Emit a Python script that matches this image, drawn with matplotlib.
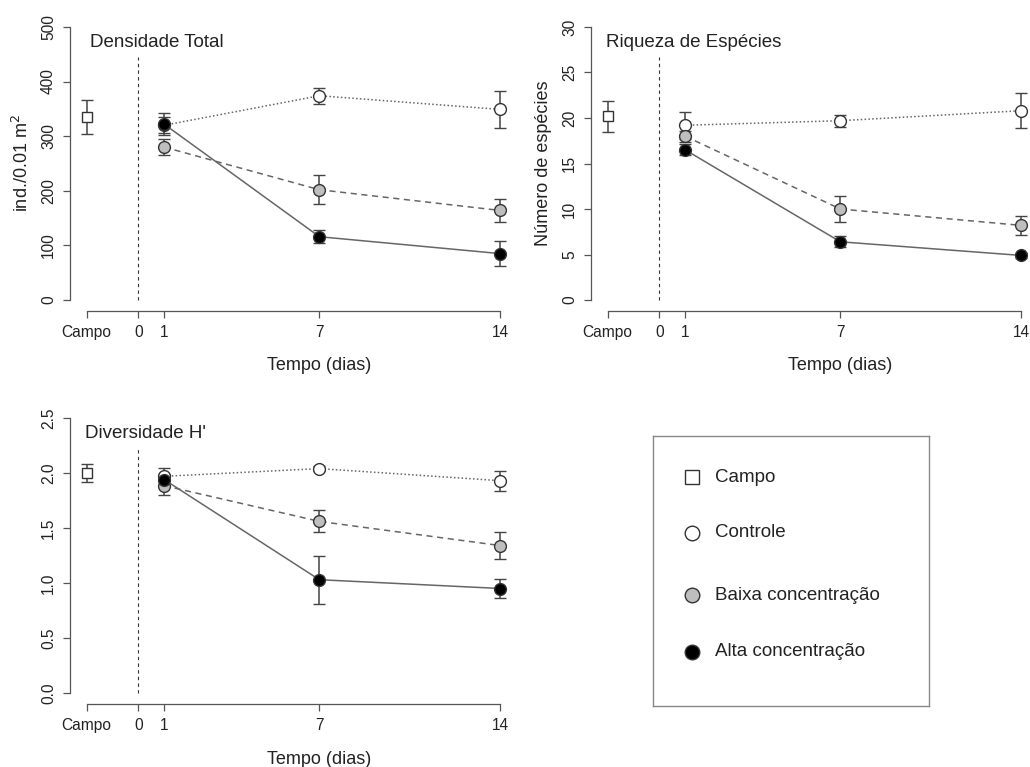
"""Densidade, riqueza e diversidade ao longo do tempo (campo x tratamentos)."""

import matplotlib

matplotlib.use("Agg")
import matplotlib.pyplot as plt
from matplotlib.transforms import blended_transform_factory

plt.rcParams["font.family"] = ["Liberation Sans", "DejaVu Sans"]

DAYS = [1, 7, 14]
CAMPO_X = -2
XTICKS = [-2, 0, 1, 7, 14]
XTICKLABELS = ["Campo", "0", "1", "7", "14"]

# Densidade total (ind./0.01 m2)
dens_campo, dens_campo_err = 335, 31
dens_controle = [320, 374, 349]
dens_controle_err = [15, 15, 34]
dens_baixa = [280, 202, 164]
dens_baixa_err = [15, 27, 21]
dens_alta = [322, 116, 85]
dens_alta_err = [20, 12, 23]

# Riqueza de especies
riq_campo, riq_campo_err = 20.2, 1.7
riq_controle = [19.2, 19.7, 20.8]
riq_controle_err = [1.5, 0.65, 1.9]
riq_baixa = [18.0, 10.0, 8.2]
riq_baixa_err = [0.6, 1.4, 1.05]
riq_alta = [16.5, 6.4, 4.9]
riq_alta_err = [0.6, 0.6, 0.3]

# Diversidade H'
div_campo, div_campo_err = 2.0, 0.085
div_controle = [1.97, 2.04, 1.93]
div_controle_err = [0.08, 0.02, 0.09]
div_baixa = [1.885, 1.56, 1.34]
div_baixa_err = [0.085, 0.1, 0.125]
div_alta = [1.94, 1.03, 0.95]
div_alta_err = [0.05, 0.22, 0.087]

LEGEND_LABELS = ["Campo", "Controle", "Baixa concentração", "Alta concentração"]
LEGEND_MARKERS = ["s", "o", "o", "o"]
LEGEND_FILLS = ["white", "white", "#bebebe", "black"]

AXIS_COL = "#555555"
TEXT_COL = "#222222"
LINE_COL = "#666666"
ERR_COL = "#444444"
EDGE_COL = "#333333"

# controle (dotted), baixa (dashed), alta (solid)
STYLES = [("white", (0, (1, 1.5))), ("#bebebe", (0, (4, 3))), ("black", "-")]


def draw_panel(ax, campo, campo_err, series, ymax, yticks, title, title_x=-2.05):
    ax.set_xlim(-2.64, 14.64)
    ax.set_ylim(-0.04 * ymax, 1.04 * ymax)

    # reference line at day 0
    ax.plot([0, 0], [0, 0.89 * ymax], color="#333333", lw=0.8, dashes=(3, 3))

    ax.errorbar([CAMPO_X], [campo], yerr=[campo_err], fmt="s", ms=7.5,
                mfc="white", mec=EDGE_COL, mew=1, ecolor=ERR_COL,
                elinewidth=1.1, capsize=4.5, capthick=1.1)

    for (vals, errs), (fill, ls) in zip(series, STYLES):
        ax.errorbar(DAYS, vals, yerr=errs, marker="o", ms=8.5, color=LINE_COL,
                    ls=ls, lw=1.1, mfc=fill, mec=EDGE_COL, mew=1,
                    ecolor=ERR_COL, elinewidth=1.1, capsize=4.5, capthick=1.1)

    for side in ("top", "right"):
        ax.spines[side].set_visible(False)
    for side in ("left", "bottom"):
        ax.spines[side].set_color(AXIS_COL)
        ax.spines[side].set_linewidth(0.9)
    ax.spines["left"].set_bounds(0, ymax)
    ax.spines["bottom"].set_bounds(-2, 14)

    ax.set_xticks(XTICKS)
    ax.set_xticklabels(XTICKLABELS)
    ax.set_yticks(yticks)
    ax.tick_params(direction="out", length=5, width=0.9, color=AXIS_COL,
                   labelsize=11.2, labelcolor=TEXT_COL, pad=5)
    ax.tick_params(axis="y", labelrotation=90)
    for lab in ax.get_yticklabels():
        lab.set_va("center")

    ax.text(title_x, 0.944 * ymax, title, fontsize=13.5, color=TEXT_COL,
            ha="left", va="center")

    # x label sits under day 7, as in the original
    trans = blended_transform_factory(ax.transData, ax.transAxes)
    ax.text(7, -0.186, "Tempo (dias)", transform=trans, fontsize=13,
            color=TEXT_COL, ha="center", va="center")


fig = plt.figure(figsize=(10.30, 7.67), dpi=100)

ax1 = fig.add_axes([70 / 1030, 1 - 311 / 767, 447 / 1030, 295 / 767])
draw_panel(ax1, dens_campo, dens_campo_err,
           [(dens_controle, dens_controle_err), (dens_baixa, dens_baixa_err),
            (dens_alta, dens_alta_err)],
           500, [0, 100, 200, 300, 400, 500], "Densidade Total", title_x=-1.85)
ax1.set_ylabel("ind./0.01 m$^2$", fontsize=13, color=TEXT_COL)
ax1.yaxis.set_label_coords(-0.085, 0.5)

ax2 = fig.add_axes([591 / 1030, 1 - 311 / 767, 447 / 1030, 295 / 767])
draw_panel(ax2, riq_campo, riq_campo_err,
           [(riq_controle, riq_controle_err), (riq_baixa, riq_baixa_err),
            (riq_alta, riq_alta_err)],
           30, [0, 5, 10, 15, 20, 25, 30], "Riqueza de Espécies")
ax2.set_ylabel("Número de espécies", fontsize=13, color=TEXT_COL)
ax2.yaxis.set_label_coords(-0.087, 0.5)

ax3 = fig.add_axes([70 / 1030, 1 - 704 / 767, 447 / 1030, 297 / 767])
draw_panel(ax3, div_campo, div_campo_err,
           [(div_controle, div_controle_err), (div_baixa, div_baixa_err),
            (div_alta, div_alta_err)],
           2.5, [0.0, 0.5, 1.0, 1.5, 2.0, 2.5], "Diversidade H'")
ax3.set_yticklabels(["0.0", "0.5", "1.0", "1.5", "2.0", "2.5"])
for lab in ax3.get_yticklabels():
    lab.set_va("center")

# legend box drawn by hand to match the R layout
lax = fig.add_axes([653 / 1030, 1 - 706 / 767, 276 / 1030, 270 / 767])
lax.set_xlim(0, 1)
lax.set_ylim(0, 1)
lax.set_xticks([])
lax.set_yticks([])
for sp in lax.spines.values():
    sp.set_color("#888888")
    sp.set_linewidth(1)
rows_y = [0.848, 0.641, 0.411, 0.20]
for y, lab, mk, fill in zip(rows_y, LEGEND_LABELS, LEGEND_MARKERS, LEGEND_FILLS):
    lax.plot([0.141], [y], marker=mk, ms=9.5 if mk == "s" else 10.5, mfc=fill,
             mec=EDGE_COL, mew=1)
    lax.text(0.225, y, lab, fontsize=13.5, color=TEXT_COL, ha="left",
             va="center")

fig.savefig("out.png", dpi=100)
